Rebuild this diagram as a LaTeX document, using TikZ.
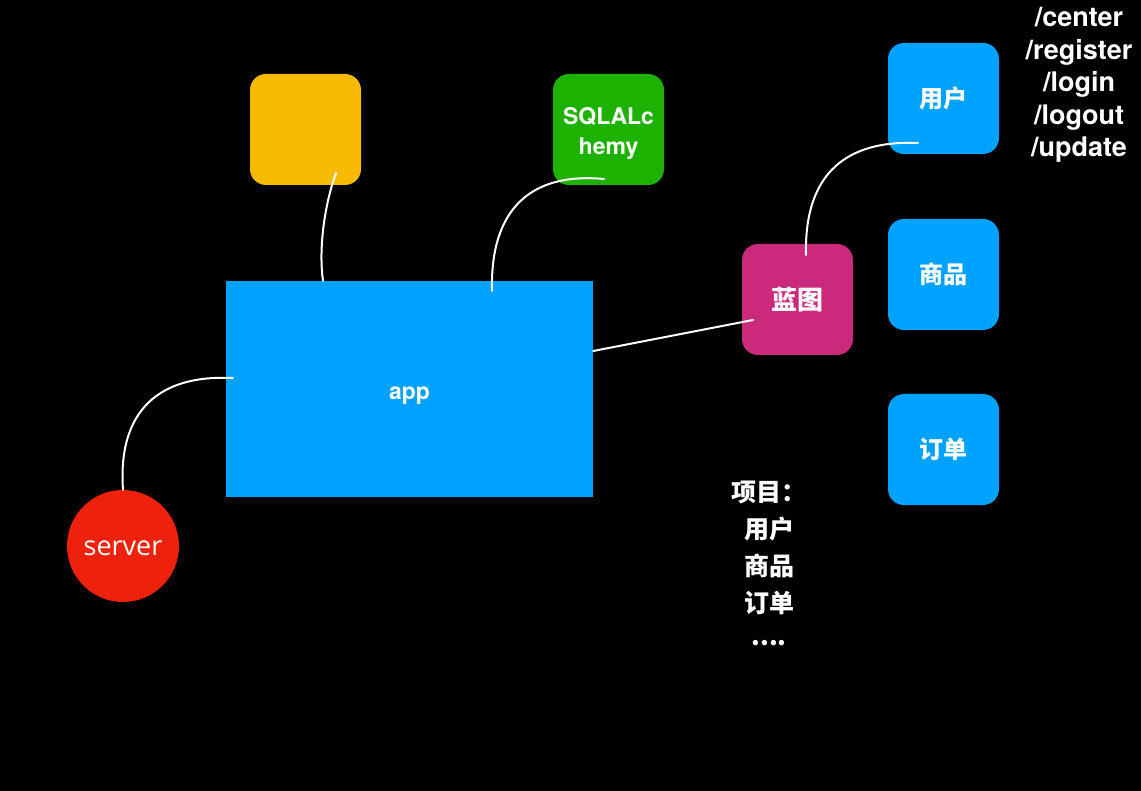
\documentclass[tikz,border=0pt]{standalone}
\usepackage{fontspec}
\setmainfont{TeX Gyre Heros}
\newfontfamily\opensans{Open Sans}
\newfontfamily\cjk{Noto Sans CJK SC}
\usetikzlibrary{calc}
\definecolor{cyellow}{HTML}{F8BA00}
\definecolor{cgreen}{HTML}{1DB100}
\definecolor{cblue}{HTML}{00A2FF}
\definecolor{cred}{HTML}{EE220C}
\definecolor{cmag}{HTML}{CB297B}
\tikzset{
  sq/.style={rectangle, rounded corners=16pt, minimum width=111pt, minimum height=111pt, inner sep=0pt, text=white},
  cjktxt/.style={font=\cjk\bfseries\fontsize{24}{30}\selectfont},
  link/.style={draw=white, line width=2pt, line cap=round},
}
\begin{document}
\begin{tikzpicture}[x=1pt,y=-1pt]
\fill[black] (0,0) rectangle (1141,791);
\useasboundingbox (0,0) rectangle (1141,791);
% nodes
\node[sq, fill=cyellow] (yel) at (305.5,129.5) {};
\node[sq, fill=cgreen, label={[text=white, align=center, inner sep=0pt, font=\bfseries\fontsize{23}{30}\selectfont, yshift=-4pt]center:{SQLALc\\hemy}}] (sqla) at (608.5,129.5) {};
\node[rectangle, fill=cblue, minimum width=367pt, minimum height=216pt, inner sep=0pt, text=white, font=\bfseries\fontsize{23}{28}\selectfont] (app) at (409.5,389) {\raisebox{-10.5pt}[0pt][0pt]{app}};
\node[circle, fill=cred, minimum size=112pt, inner sep=0pt, text=white, font=\opensans\fontsize{27}{30}\selectfont] (server) at (123,546) {\raisebox{-9pt}[0pt][0pt]{server}};
\node[sq, fill=cmag, font=\cjk\bfseries\fontsize{26}{30}\selectfont] (bp) at (797.5,299.5) {蓝图};
\node[sq, fill=cblue, cjktxt] (user) at (943.5,98.5) {用户};
\node[sq, fill=cblue, cjktxt] (goods) at (943.5,274.5) {商品};
\node[sq, fill=cblue, cjktxt] (order) at (943.5,449.5) {订单};
% texts
\node[text=white, align=center, font=\bfseries\fontsize{27}{32.5}\selectfont, inner sep=0pt] (routes) at (1079,85) {/center\\/register\\/login\\/logout\\/update};
\node[text=white, align=center, font=\cjk\bfseries\fontsize{25}{37}\selectfont, inner sep=0pt] (proj) at (769,565) {项目：\\用户\\商品\\订单\\\raisebox{4pt}{....}};
% connectors
\draw[link] ($(yel.center)+(30.5,43.5)$) .. controls (326,200) and (318,245) .. ($(app.north)+(-86.5,0)$);
\draw[link] ($(sqla.center)+(-4.5,49.5)$) .. controls (530,172) and (490,210) .. ($(app.north)+(82.5,10)$);
\draw[link] ($(app.east)+(0,-38)$) -- ($(bp.center)+(-44.5,20.5)$);
\draw[link] ($(app.west)+(7,-11)$) .. controls (150,374) and (118,420) .. (server.north);
\draw[link] ($(bp.center)+(8.5,-44.5)$) .. controls (804,170) and (850,140) .. ($(user.center)+(-25.5,44.5)$);
\end{tikzpicture}
\end{document}
